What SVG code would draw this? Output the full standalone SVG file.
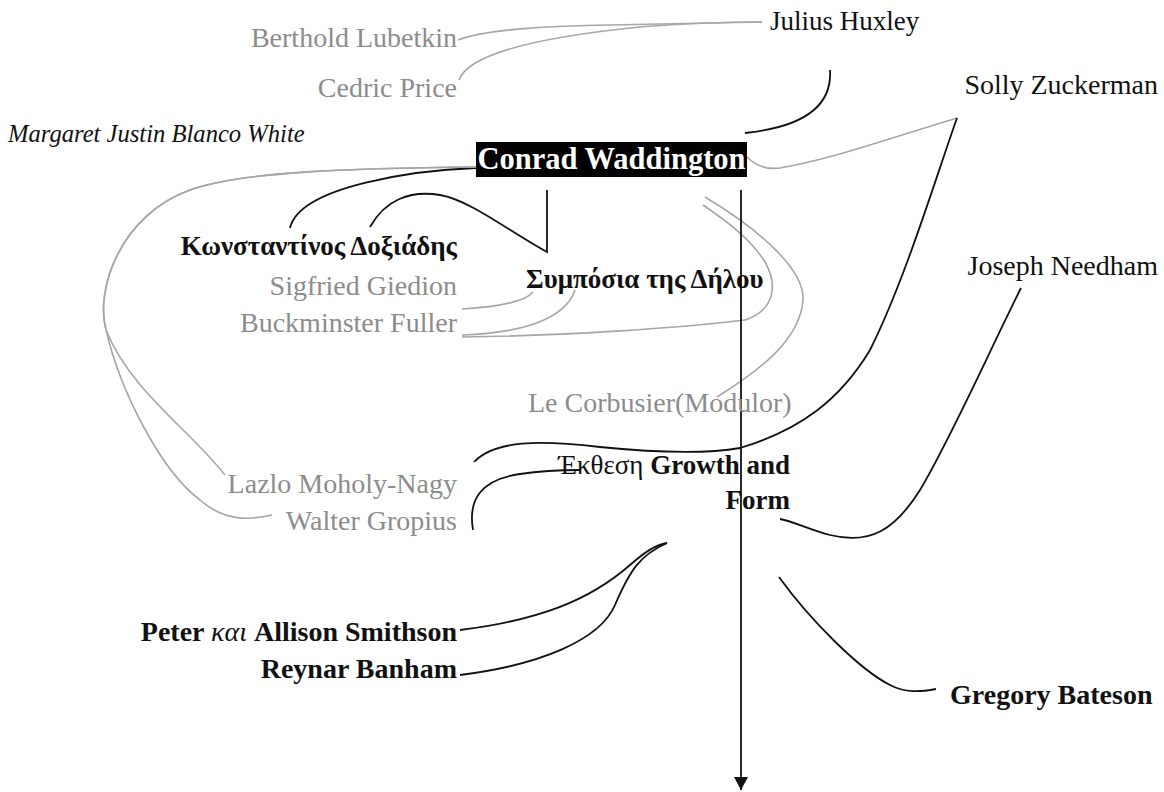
<svg xmlns="http://www.w3.org/2000/svg" width="1164" height="792" viewBox="0 0 1164 792" font-family="'Liberation Serif', Tinos, 'Times New Roman', 'DejaVu Serif', serif">
<style>
text{font-family:"Liberation Serif",Tinos,"Times New Roman","DejaVu Serif",serif;font-size:28px;fill:#111}
text.m{font-size:27px}
text.it{font-size:24.6px;font-style:italic}
text.cw{font-size:30.5px;font-weight:bold;fill:#fff}
.g{fill:#8c8c8c}
.b{font-weight:bold}
.k{stroke:#111;stroke-width:1.8;fill:none}
.s{stroke:#a6a6a6;stroke-width:1.6;fill:none}
</style>
<defs>
<marker id="arr" markerWidth="14" markerHeight="14" refX="13" refY="7" orient="auto" markerUnits="userSpaceOnUse" viewBox="0 0 14 14">
<path d="M0,0 L13,7 L0,14 Z" fill="#111"/>
</marker>
</defs>
<rect width="1164" height="792" fill="#fff"/>
<g id="connectors">
<path class="s" d="M458,40 C490,28 560,26 610,25 L762,22"/>
<path class="s" d="M459,80 C470,50 560,35 640,27 C690,23 720,22 762,22"/>
<path class="k" d="M830,70 C832,100 812,126 745,133"/>
<path class="s" d="M747,157 C755,165 765,170 780,168 C830,160 900,135 957,118"/>
<path class="k" d="M957,118 C935,180 905,280 870,350 C840,400 800,430 740,448 C700,455 650,452 600,447 C540,440 495,440 474,462"/>
<path class="k" d="M476,168 C420,170 300,185 290,228"/>
<path class="k" d="M370,227 C385,200 410,190 440,195 C470,200 510,232 547,252 L547,190"/>
<path class="s" d="M476,167 C350,168 240,172 190,190 C120,215 95,290 106,330 C130,390 190,430 225,475"/>
<path class="s" d="M476,167 C350,168 240,172 190,190 C120,215 95,290 106,330 C120,390 160,470 200,500 C225,522 250,520 272,515"/>
<path class="s" d="M462,309 C495,307 525,302 533,292"/>
<path class="s" d="M462,335 C520,333 565,320 575,290"/>
<path class="s" d="M462,337 C560,336 680,328 745,320 C775,310 778,285 765,262 C750,238 725,220 703,205"/>
<path class="s" d="M705,197 C760,230 805,270 803,300 C800,340 760,370 717,397"/>
<path class="k" d="M1021,288 C990,350 950,440 920,490 C895,530 870,545 830,535 C810,530 795,522 780,519"/>
<path class="k" d="M473,530 C468,500 480,480 520,474 C540,471 560,470 580,470"/>
<path class="k" d="M460,630 C540,620 590,600 630,565 C645,552 655,545 667,543"/>
<path class="k" d="M460,675 C540,665 600,640 615,605 C630,570 640,555 667,543"/>
<path class="k" d="M779,577 C810,620 860,670 890,685 C905,693 920,692 936,689"/>
<path class="k" d="M741,190 L741,790" marker-end="url(#arr)"/>
</g>
<g id="berthold"><text class="g" x="457" y="47" text-anchor="end">Berthold Lubetkin</text></g>
<g id="cedric"><text class="g" x="457" y="97" text-anchor="end">Cedric Price</text></g>
<g id="julius"><text class="m" x="770" y="30">Julius Huxley</text></g>
<g id="solly"><text x="1158" y="94" text-anchor="end">Solly Zuckerman</text></g>
<g id="margaret"><text class="it" x="8" y="142">Margaret Justin Blanco White</text></g>
<g id="conrad"><rect x="476" y="142" width="271" height="35" fill="#000"/><text class="cw" x="611.5" y="169" text-anchor="middle">Conrad Waddington</text></g>
<g id="doxiadis"><text class="b m" x="457" y="255" text-anchor="end">Κωνσταντίνος Δοξιάδης</text></g>
<g id="giedion"><text class="g" x="457" y="295" text-anchor="end">Sigfried Giedion</text></g>
<g id="fuller"><text class="g" x="457" y="332" text-anchor="end">Buckminster Fuller</text></g>
<g id="symposia"><text class="b m" x="526" y="288">Συμπόσια της Δήλου</text></g>
<g id="corbusier"><text class="g" x="528" y="412">Le Corbusier(Modulor)</text></g>
<g id="ekthesi"><text class="m" x="790" y="474" text-anchor="end"><tspan>Έκθεση </tspan><tspan class="b">Growth and</tspan></text><text class="b m" x="790" y="509" text-anchor="end">Form</text></g>
<g id="moholy"><text class="g" x="457" y="493" text-anchor="end">Lazlo Moholy-Nagy</text></g>
<g id="gropius"><text class="g" x="457" y="530" text-anchor="end">Walter Gropius</text></g>
<g id="needham"><text x="1158" y="275" text-anchor="end">Joseph Needham</text></g>
<g id="smithson"><text class="b" x="457" y="641" text-anchor="end">Peter <tspan font-style="italic" font-weight="normal">και</tspan> Allison Smithson</text></g>
<g id="banham"><text class="b" x="457" y="678" text-anchor="end">Reynar Banham</text></g>
<g id="bateson"><text class="b" x="950" y="704">Gregory Bateson</text></g>
</svg>
